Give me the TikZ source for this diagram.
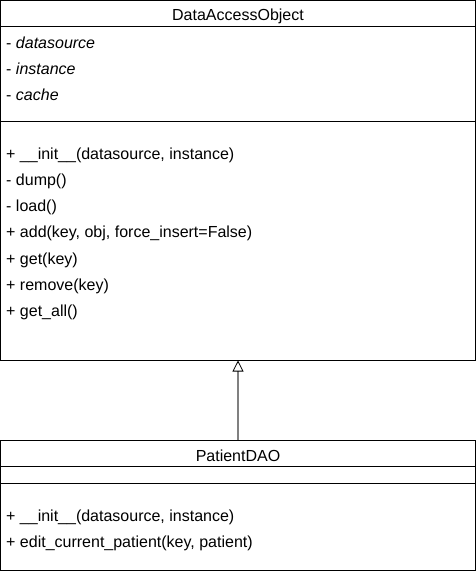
\documentclass[tikz,border=0pt]{standalone}
\usepackage{fontspec}
\setmainfont{Liberation Sans}
\usetikzlibrary{arrows.meta}
\begin{document}
\begin{tikzpicture}[x=1pt,y=-1pt,
  box/.style={draw=black,line width=1pt,fill=white},
  member/.style={anchor=west,inner sep=0pt,font=\fontsize{16}{19}\selectfont},
  title/.style={anchor=center,inner sep=0pt,font=\fontsize{16}{19}\selectfont},
  inherit/.style={draw={rgb,255:red,128;green,128;blue,128},line width=1.2pt,-{Triangle[open,length=11pt,width=11pt,color=black,line width=0.8pt]}}]
\useasboundingbox (0,0) rectangle (476,571);
% DataAccessObject
\draw[box] (0.5,0.5) rectangle (475.5,360.5);
\coordinate (daobot) at (238,360.5);
\draw[line width=1pt] (0.5,26) -- (475.5,26);
\draw[line width=1pt] (0.5,121) -- (475.5,121);
\node[title] (daot) at (238,16) {DataAccessObject};
\node[member] (a1) at (6,43) {- \textit{datasource}};
\node[member] (a2) at (6,69) {- \textit{instance}};
\node[member] (a3) at (6,95) {- \textit{cache}};
\node[member] (m1) at (6,155) {+ \_\_init\_\_(datasource, instance)};
\node[member] (m2) at (6,181) {- dump()};
\node[member] (m3) at (6,207) {- load()};
\node[member] (m4) at (6,233) {+ add(key, obj, force\_insert=False)};
\node[member] (m5) at (6,260) {+ get(key)};
\node[member] (m6) at (6,286) {+ remove(key)};
\node[member] (m7) at (6,312) {+ get\_all()};
% PatientDAO
\draw[box] (0.5,440) rectangle (475.5,570.5);
\coordinate (pdaotop) at (238,440);
\draw[line width=1pt] (0.5,466) -- (475.5,466);
\draw[line width=1pt] (0.5,483) -- (475.5,483);
\node[title] (pt) at (238,456) {PatientDAO};
\node[member] (p1) at (6,517) {+ \_\_init\_\_(datasource, instance)};
\node[member] (p2) at (6,543) {+ edit\_current\_patient(key, patient)};
% inheritance
\draw[inherit] (pdaotop) -- (daobot);
\end{tikzpicture}
\end{document}
